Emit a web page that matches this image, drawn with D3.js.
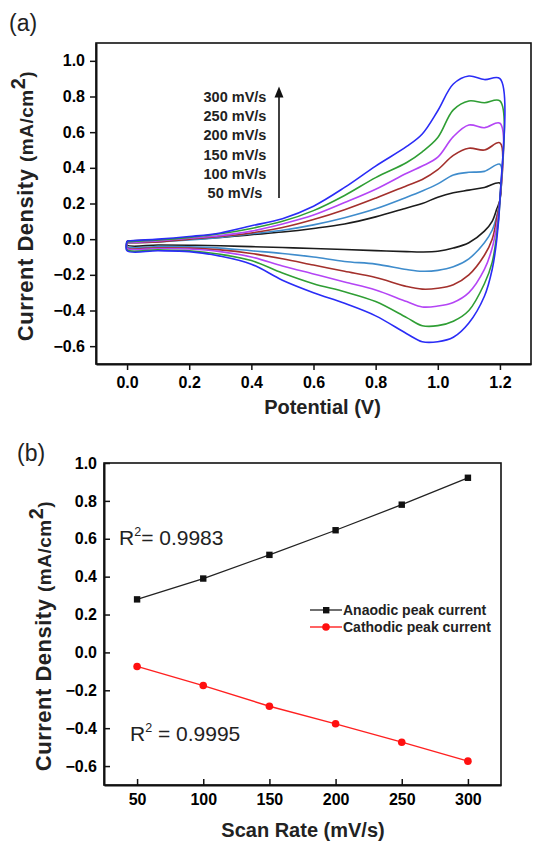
<!DOCTYPE html>
<html>
<head>
<meta charset="utf-8">
<script src="https://cdn.jsdelivr.net/npm/d3@7/dist/d3.min.js"></script>
<style>
  body { margin: 0; background: #fff; }
  svg text { font-family: "Liberation Sans", Arial, sans-serif; }
</style>
</head>
<body>
<div id="chart"></div>
<script>
// ─── data: CV curves (a) ─────────────────────────────────────────────────────
const scanRates = [50, 100, 150, 200, 250, 300];

// forward (anodic) sweep potentials and current densities
const fwdV   = [0, 0.1, 0.2, 0.3, 0.4, 0.5, 0.6, 0.7, 0.8, 0.9, 0.95, 1.0, 1.05, 1.1, 1.15, 1.2];
const fwd50  = [-0.01, -0.005, 0.0, 0.01, 0.025, 0.04, 0.06, 0.085, 0.125, 0.175, 0.2, 0.235, 0.26, 0.275, 0.29, 0.315];
const fwd100 = [-0.02, -0.015, -0.005, 0.01, 0.03, 0.05, 0.08, 0.12, 0.17, 0.235, 0.27, 0.31, 0.36, 0.375, 0.38, 0.42];
const fwd150 = [-0.02, -0.015, 0.0, 0.015, 0.035, 0.065, 0.11, 0.165, 0.23, 0.3, 0.335, 0.39, 0.47, 0.51, 0.5, 0.54];
const fwd200 = [-0.02, -0.01, 0.005, 0.02, 0.045, 0.085, 0.135, 0.205, 0.28, 0.37, 0.41, 0.46, 0.575, 0.64, 0.625, 0.65];
const fwd250 = [-0.015, -0.005, 0.01, 0.03, 0.06, 0.1, 0.16, 0.245, 0.345, 0.43, 0.49, 0.57, 0.725, 0.775, 0.765, 0.775];
const fwd300 = [-0.01, 0.0, 0.015, 0.035, 0.075, 0.115, 0.185, 0.29, 0.41, 0.52, 0.59, 0.72, 0.87, 0.915, 0.895, 0.9];

// reverse (cathodic) sweep
const revV   = [1.2, 1.19, 1.175, 1.15, 1.1, 1.05, 1.0, 0.95, 0.9, 0.8, 0.7, 0.6, 0.5, 0.4, 0.3, 0.2, 0.1, 0.0];
const rev50  = [0.22, 0.17, 0.1, 0.045, -0.02, -0.05, -0.068, -0.072, -0.07, -0.064, -0.058, -0.052, -0.047, -0.042, -0.037, -0.034, -0.033, -0.033];
const rev100 = [0.22, 0.13, 0.05, -0.02, -0.11, -0.155, -0.175, -0.18, -0.17, -0.14, -0.125, -0.1, -0.08, -0.065, -0.05, -0.043, -0.042, -0.042];
const rev150 = [0.22, 0.12, 0.0, -0.09, -0.2, -0.255, -0.275, -0.28, -0.265, -0.215, -0.18, -0.145, -0.11, -0.08, -0.06, -0.05, -0.048, -0.048];
const rev200 = [0.22, 0.08, -0.05, -0.17, -0.3, -0.355, -0.375, -0.38, -0.35, -0.285, -0.24, -0.195, -0.15, -0.1, -0.07, -0.055, -0.052, -0.052];
const rev250 = [0.22, 0.03, -0.13, -0.25, -0.4, -0.46, -0.485, -0.485, -0.44, -0.35, -0.295, -0.25, -0.19, -0.12, -0.085, -0.065, -0.06, -0.06];
const rev300 = [0.22, 0.0, -0.17, -0.32, -0.47, -0.55, -0.575, -0.575, -0.53, -0.43, -0.36, -0.3, -0.23, -0.14, -0.095, -0.07, -0.065, -0.065];

const potTicks   = [0.0, 0.2, 0.4, 0.6, 0.8, 1.0, 1.2];
const potMinor   = [-0.1, 0.1, 0.3, 0.5, 0.7, 0.9, 1.1, 1.3];
const curATicks  = [-0.6, -0.4, -0.2, 0.0, 0.2, 0.4, 0.6, 0.8, 1.0];
const curAMinor  = [-0.7, -0.5, -0.3, -0.1, 0.1, 0.3, 0.5, 0.7, 0.9, 1.1];

// ─── data: peak currents (b) ─────────────────────────────────────────────────
const anodicPeak   = [0.28, 0.39, 0.515, 0.645, 0.78, 0.922];
const cathodicPeak = [-0.074, -0.175, -0.284, -0.377, -0.474, -0.574];
const rateTicks  = [50, 100, 150, 200, 250, 300];
const rateMinor  = [75, 125, 175, 225, 275];
const curBTicks  = [-0.6, -0.4, -0.2, 0.0, 0.2, 0.4, 0.6, 0.8, 1.0];
const curBMinor  = [-0.7, -0.5, -0.3, -0.1, 0.1, 0.3, 0.5, 0.7, 0.9];

// ─── styles ──────────────────────────────────────────────────────────────────
const CURVE_COLORS = ["#1c1c1c", "#3f8ccc", "#a3302c", "#b445f5", "#2f9e34", "#2a2cf6"];
const FONT = "Liberation Sans, Arial, sans-serif";

const svg = d3.select("#chart").append("svg")
    .attr("width", 533)
    .attr("height", 843)
    .style("background", "#fff");

function styleAxis(g, size) {
    g.attr("font-family", FONT).attr("font-size", size).attr("font-weight", "bold");
    g.selectAll(".tick line").attr("stroke", "#111").attr("stroke-width", 1.5);
    g.select(".domain").attr("stroke", "#111").attr("stroke-width", 2);
}

// rotated y title, baseline at x
function yTitle(x, y) {
    const t = svg.append("text")
        .attr("transform", `translate(${x},${y}) rotate(-90)`)
        .attr("text-anchor", "middle")
        .attr("font-weight", "bold")
        .attr("letter-spacing", 0.5)
        .attr("fill", "#222");
    t.append("tspan").attr("font-size", 22).text("Current Density ");
    t.append("tspan").attr("font-size", 19).text("(mA/cm");
    t.append("tspan").attr("font-size", 20).attr("dy", -8).text("2");
    t.append("tspan").attr("font-size", 19).attr("dy", 8).text(")");
}

// ─── panel (a) ───────────────────────────────────────────────────────────────
const xA = d3.scaleLinear().domain([-0.1, 1.3]).range([96, 531]);
const yA = d3.scaleLinear().domain([-0.7, 1.1]).range([364, 43]);

svg.append("rect")
    .attr("x", xA(-0.1)).attr("y", yA(1.1))
    .attr("width", xA(1.3) - xA(-0.1)).attr("height", yA(-0.7) - yA(1.1))
    .attr("fill", "none").attr("stroke", "#111").attr("stroke-width", 1.6);

const fwdSets = [fwd50, fwd100, fwd150, fwd200, fwd250, fwd300];
const revSets = [rev50, rev100, rev150, rev200, rev250, rev300];

const cvLine = d3.line()
    .x(d => xA(d[0]))
    .y(d => yA(d[1]))
    .curve(d3.curveCatmullRom.alpha(0.5));

scanRates.forEach((r, i) => {
    const pts = fwdV.map((v, k) => [v, fwdSets[i][k]])
        .concat(revV.map((v, k) => [v, revSets[i][k]]))
        .concat([[fwdV[0], fwdSets[i][0]]]);
    svg.append("path")
        .attr("d", cvLine(pts))
        .attr("fill", "none")
        .attr("stroke", CURVE_COLORS[i])
        .attr("stroke-width", 1.6);
});

const axA_x = svg.append("g").attr("transform", `translate(0,${yA(-0.7)})`);
axA_x.call(d3.axisBottom(xA).tickValues(potMinor).tickSize(3).tickFormat(""));
axA_x.call(d3.axisBottom(xA).tickValues(potTicks).tickSize(6).tickSizeOuter(0)
    .tickPadding(7).tickFormat(d3.format(".1f")));
styleAxis(axA_x, 16);

const axA_y = svg.append("g").attr("transform", `translate(${xA(-0.1)},0)`);
axA_y.call(d3.axisLeft(yA).tickValues(curAMinor).tickSize(3).tickFormat(""));
axA_y.call(d3.axisLeft(yA).tickValues(curATicks).tickSize(6).tickSizeOuter(0)
    .tickPadding(5).tickFormat(d3.format(".1f")));
styleAxis(axA_y, 16);

svg.append("text")
    .attr("x", (xA(-0.1) + xA(1.3)) / 2 + 9).attr("y", 407)
    .attr("dominant-baseline", "central").attr("text-anchor", "middle")
    .attr("font-size", 20).attr("font-weight", "bold").attr("fill", "#222")
    .text("Potential (V)");
yTitle(33, 206);

svg.append("text").attr("x", 9).attr("y", 31)
    .attr("font-size", 23).attr("fill", "#222").text("(a)");

// scan-rate legend with arrow
const legA = svg.append("g").attr("font-size", 14.5).attr("font-weight", "bold").attr("fill", "#222");
scanRates.slice().reverse().forEach((r, i) => {
    legA.append("text")
        .attr("x", 235).attr("y", 97 + i * 19.2)
        .attr("text-anchor", "middle").attr("dominant-baseline", "central")
        .text(`${r} mV/s`);
});
svg.append("defs").append("marker")
    .attr("id", "arrowhead").attr("viewBox", "0 0 10 10")
    .attr("refX", 5).attr("refY", 5)
    .attr("markerWidth", 7).attr("markerHeight", 7)
    .attr("orient", "auto")
    .append("path").attr("d", "M0,1 L10,5 L0,9 Z").attr("fill", "#111");
svg.append("line")
    .attr("x1", 279).attr("y1", 198).attr("x2", 279).attr("y2", 92)
    .attr("stroke", "#111").attr("stroke-width", 1.6)
    .attr("marker-end", "url(#arrowhead)");

// ─── panel (b) ───────────────────────────────────────────────────────────────
const xB = d3.scaleLinear().domain([25, 325]).range([104, 501]);
const yB = d3.scaleLinear().domain([-0.7, 1.0]).range([785, 463]);

svg.append("rect")
    .attr("x", xB(25)).attr("y", yB(1.0))
    .attr("width", xB(325) - xB(25)).attr("height", yB(-0.7) - yB(1.0))
    .attr("fill", "none").attr("stroke", "#111").attr("stroke-width", 1.6);

const axB_x = svg.append("g").attr("transform", `translate(0,${yB(-0.7)})`);
axB_x.call(d3.axisBottom(xB).tickValues(rateMinor).tickSize(-3).tickFormat(""));
axB_x.call(d3.axisBottom(xB).tickValues(rateTicks).tickSize(-6).tickSizeOuter(0)
    .tickPadding(9));
styleAxis(axB_x, 16);

const axB_y = svg.append("g").attr("transform", `translate(${xB(25)},0)`);
axB_y.call(d3.axisLeft(yB).tickValues(curBMinor).tickSize(-3).tickFormat(""));
axB_y.call(d3.axisLeft(yB).tickValues(curBTicks).tickSize(-6).tickSizeOuter(0)
    .tickPadding(7).tickFormat(d3.format(".1f")));
styleAxis(axB_y, 16);

const peakLine = d3.line().x((d, i) => xB(scanRates[i])).y(d => yB(d));

svg.append("path").attr("d", peakLine(anodicPeak))
    .attr("fill", "none").attr("stroke", "#222").attr("stroke-width", 1.3);
svg.selectAll(".sq").data(anodicPeak).enter().append("rect")
    .attr("x", (d, i) => xB(scanRates[i]) - 3.2).attr("y", d => yB(d) - 3.2)
    .attr("width", 6.4).attr("height", 6.4).attr("fill", "#111");

svg.append("path").attr("d", peakLine(cathodicPeak))
    .attr("fill", "none").attr("stroke", "#ff2020").attr("stroke-width", 1.4);
svg.selectAll(".dot").data(cathodicPeak).enter().append("circle")
    .attr("cx", (d, i) => xB(scanRates[i])).attr("cy", d => yB(d))
    .attr("r", 3.8).attr("fill", "#ff1010");

// R² annotations
function r2(x, y, val) {
    const t = svg.append("text").attr("x", x).attr("y", y)
        .attr("font-size", 21).attr("fill", "#222");
    t.append("tspan").text("R");
    t.append("tspan").attr("font-size", 12.5).attr("dy", -9).text("2");
    t.append("tspan").attr("dy", 9).text(val);
}
r2(119, 545, "= 0.9983");
r2(130, 741, " = 0.9995");

// legend (b)
const legB = svg.append("g").attr("font-size", 14).attr("font-weight", "bold").attr("fill", "#222");
legB.append("line").attr("x1", 310).attr("x2", 342).attr("y1", 610).attr("y2", 610)
    .attr("stroke", "#222").attr("stroke-width", 1.3);
legB.append("rect").attr("x", 323).attr("y", 607).attr("width", 6.4).attr("height", 6.4).attr("fill", "#111");
legB.append("text").attr("x", 343).attr("y", 610).attr("dominant-baseline", "central")
    .text("Anaodic peak current");
legB.append("line").attr("x1", 310).attr("x2", 342).attr("y1", 627).attr("y2", 627)
    .attr("stroke", "#ff2020").attr("stroke-width", 1.4);
legB.append("circle").attr("cx", 326).attr("cy", 627).attr("r", 3.8).attr("fill", "#ff1010");
legB.append("text").attr("x", 343).attr("y", 627).attr("dominant-baseline", "central")
    .text("Cathodic peak current");

svg.append("text")
    .attr("x", 303).attr("y", 830)
    .attr("dominant-baseline", "central").attr("text-anchor", "middle")
    .attr("font-size", 20).attr("font-weight", "bold").attr("fill", "#222")
    .text("Scan Rate (mV/s)");
yTitle(51, 636);

svg.append("text").attr("x", 17).attr("y", 461)
    .attr("font-size", 23).attr("fill", "#222").text("(b)");
</script>
</body>
</html>
